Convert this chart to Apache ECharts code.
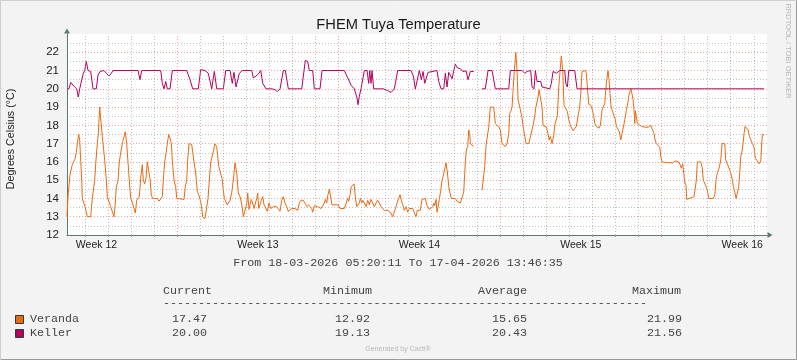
<!DOCTYPE html>
<html><head><meta charset="utf-8">
<script src="https://cdn.jsdelivr.net/npm/echarts@6/dist/echarts.min.js"></script>
<style>html,body{margin:0;padding:0;background:#f3f3f3}#c{width:797px;height:360px}</style>
</head><body><div id="c"></div>
<script>
// ---- texts ----
const titleText = 'FHEM Tuya Temperature';
const yAxisTitle = 'Degrees Celsius (°C)';
const periodText = 'From 18-03-2026 05:20:11 To 17-04-2026 13:46:35';
const watermark = 'RRDTOOL / TOBI OETIKER';
const footer = 'Generated by Cacti®';
// ---- x axis (days since Mon 16-03-2026 00:00) ----
const rangeStart = 2.2223;   // 18-03-2026 05:20:11
const rangeEnd = 32.5741;    // 17-04-2026 13:46:35
const dayLines = [3,4,5,6,8,9,10,11,12,13,15,16,17,18,19,20,22,23,24,25,26,27,29,30,31,32];
const weekLines = [7,14,21,28];
const weekLabelDays = [3.5,10.5,17.5,24.5,31.5];
const weekLabels = ['Week 12','Week 13','Week 14','Week 15','Week 16'];
// ---- y axis ----
const yMin = 12, yMax = 23, yStep = 1;
// ---- legend table ----
const statHeaders = ['Current','Minimum','Average','Maximum'];
const seriesNames = ['Veranda','Keller'];
const seriesColors = ['#EA6A12','#B5005C'];
const verandaStats = ['17.47','12.92','15.65','21.99'];
const kellerStats = ['20.00','19.13','20.43','21.56'];
// ---- data: [day, °C] ----
const kellerPoints = [
[2.222,20.0],[2.309,20.0],[2.383,20.35],[2.452,20.25],[2.556,20.1],[2.643,20.0],[2.712,19.55],[2.773,20.0],[2.843,20.0],[2.929,20.85],
[2.990,21.0],[3.059,21.5],[3.133,21.0],[3.250,20.95],[3.350,20.0],[3.493,20.0],[3.567,20.75],[3.653,20.95],[3.710,21.0],[3.827,21.0],
[3.927,20.85],[4.044,20.7],[4.143,20.85],[4.217,21.0],[5.301,21.0],[5.388,20.5],[5.462,21.0],[6.286,21.0],[6.355,20.3],[6.429,20.0],
[6.502,20.4],[6.572,20.0],[6.689,20.0],[6.789,21.0],[7.413,21.0],[7.556,20.5],[7.673,20.0],[7.916,20.0],[8.020,21.05],[8.207,21.0],
[8.350,20.85],[8.497,20.0],[8.610,20.95],[8.714,20.0],[9.000,20.0],[9.104,21.0],[9.291,21.0],[9.390,20.3],[9.464,20.9],[9.551,20.1],
[9.625,20.5],[9.694,20.85],[9.824,21.0],[10.232,21.0],[10.301,20.6],[10.418,20.7],[10.518,20.8],[10.622,21.0],[10.709,20.3],[10.765,20.35],
[10.852,20.0],[11.099,20.0],[11.242,19.95],[11.342,19.85],[11.459,20.0],[11.602,21.0],[11.689,21.0],[11.819,20.0],[12.400,20.0],[12.556,21.55],
[12.660,21.5],[12.730,21.0],[12.877,21.0],[12.947,20.0],[13.193,20.0],[13.280,21.0],[14.247,21.0],[14.395,20.6],[14.538,20.2],[14.681,20.0],
[14.798,19.5],[14.841,19.13],[14.898,19.6],[14.971,20.0],[15.115,21.0],[15.231,21.0],[15.305,20.3],[15.349,21.0],[15.405,20.3],[15.448,21.0],
[15.522,20.0],[15.938,20.0],[16.129,19.9],[16.272,19.8],[16.415,20.0],[16.563,21.0],[17.139,21.0],[17.239,20.7],[17.326,20.0],[17.400,20.0],
[17.500,21.0],[17.586,20.5],[17.660,20.95],[17.734,20.3],[17.803,20.25],[17.877,20.9],[17.950,21.0],[18.267,21.0],[18.341,20.4],[18.441,20.0],
[18.558,20.0],[18.628,20.85],[18.701,20.1],[18.775,20.9],[18.862,20.7],[18.918,20.55],[18.992,21.0],[19.061,21.35],[19.148,21.15],[19.278,21.1],
[19.382,20.95],[19.451,20.85],[19.525,20.98],[19.612,20.5],[19.711,20.95],[19.859,20.95],[20.04,null],[20.218,20.0],[20.361,20.0],[20.478,21.0],
[20.652,21.0],[20.726,20.5],[20.795,20.0],[21.376,20.0],[21.446,21.0],[21.953,21.0],[22.070,20.85],[22.170,20.95],[22.330,21.0],[22.386,20.1],
[22.473,20.0],[22.530,21.0],[22.603,20.4],[22.677,20.3],[22.764,20.4],[22.820,20.1],[22.894,20.0],[23.154,20.0],[23.224,20.3],[23.297,20.95],
[23.371,21.05],[23.441,20.85],[23.484,20.95],[23.588,21.0],[23.805,21.0],[23.849,20.3],[23.918,20.1],[23.979,21.0],[24.238,21.0],[24.338,20.0],
[32.447,20.0]
];
const verandaPoints = [
[2.222,13.0],[2.266,14.1],[2.309,14.1],[2.352,15.3],[2.409,15.3],[2.452,15.85],[2.526,15.9],[2.569,16.15],[2.626,16.5],[2.669,17.0],
[2.730,17.5],[2.773,17.2],[2.816,16.1],[2.860,15.0],[2.886,14.0],[2.959,13.9],[3.003,13.55],[3.059,13.45],[3.103,13.0],[3.176,12.92],
[3.250,13.0],[3.319,14.0],[3.363,14.1],[3.423,15.0],[3.467,15.9],[3.536,17.0],[3.580,17.5],[3.640,19.0],[3.710,18.9],[3.753,17.4],
[3.797,17.3],[3.857,16.1],[3.927,15.0],[3.970,14.1],[4.044,14.0],[4.117,13.55],[4.187,13.45],[4.260,13.0],[4.304,13.55],[4.360,14.6],
[4.434,15.0],[4.490,16.0],[4.551,16.5],[4.620,17.0],[4.694,17.1],[4.750,17.65],[4.811,17.0],[4.867,16.0],[4.924,15.0],[4.985,14.0],
[5.054,13.8],[5.128,13.9],[5.184,13.2],[5.245,13.9],[5.301,14.0],[5.358,14.1],[5.418,15.1],[5.488,15.85],[5.531,15.0],[5.592,14.8],
[5.648,15.1],[5.704,16.0],[5.778,15.4],[5.821,15.1],[5.878,14.2],[5.939,14.0],[6.138,14.0],[6.212,13.85],[6.286,13.75],[6.355,14.1],
[6.398,15.0],[6.459,16.0],[6.515,16.45],[6.572,17.0],[6.632,17.5],[6.689,17.3],[6.745,17.0],[6.788,16.1],[6.862,15.0],[6.935,14.65],
[6.979,14.0],[7.296,13.95],[7.352,14.65],[7.413,15.0],[7.456,16.1],[7.513,17.0],[7.630,16.95],[7.673,16.55],[7.730,16.0],[7.803,15.4],
[7.873,14.4],[7.934,14.2],[7.990,13.95],[8.046,13.65],[8.107,13.0],[8.207,12.9],[8.280,13.0],[8.337,14.0],[8.393,15.0],[8.454,16.0],
[8.523,16.1],[8.584,16.65],[8.627,17.0],[8.714,16.85],[8.801,15.75],[8.887,15.65],[8.944,15.1],[9.000,14.45],[9.044,14.0],[9.117,13.9],
[9.174,13.65],[9.247,13.55],[9.291,13.9],[9.364,14.3],[9.434,15.0],[9.508,15.95],[9.581,15.4],[9.651,14.3],[9.724,14.1],[9.798,13.7],
[9.868,13.0],[9.941,13.0],[10.015,13.7],[10.058,14.3],[10.114,13.4],[10.158,13.5],[10.214,13.95],[10.275,13.75],[10.331,13.45],[10.388,13.55],
[10.449,14.0],[10.492,14.3],[10.535,13.45],[10.592,13.35],[10.648,13.9],[10.709,14.1],[10.765,13.65],[10.822,13.55],[10.908,13.3],[10.982,13.75],
[11.056,13.45],[11.169,13.55],[11.316,13.55],[11.386,13.45],[11.459,13.3],[11.533,13.9],[11.602,14.1],[11.676,13.75],[11.749,13.55],[11.819,13.3],
[11.892,13.35],[11.966,13.45],[12.109,13.45],[12.226,13.35],[12.296,13.75],[12.369,13.9],[12.469,13.9],[12.543,13.75],[12.616,13.55],[12.703,13.65],
[12.773,13.65],[12.833,13.45],[12.877,13.25],[12.946,13.6],[13.094,13.55],[13.163,13.55],[13.237,13.45],[13.311,13.35],[13.380,13.75],[13.424,13.95],
[13.484,13.75],[13.528,14.15],[13.597,14.5],[13.671,14.4],[13.714,13.65],[13.771,13.75],[13.844,13.65],[13.918,13.75],[13.987,13.65],[14.061,13.45],
[14.247,13.45],[14.321,13.55],[14.395,14.0],[14.438,13.85],[14.494,14.2],[14.551,14.65],[14.612,14.75],[14.668,14.8],[14.725,14.1],[14.786,13.55],
[14.829,13.45],[14.898,13.75],[14.941,14.0],[15.002,13.75],[15.045,13.9],[15.115,13.75],[15.188,13.55],[15.262,13.9],[15.331,13.65],[15.405,13.95],
[15.479,13.9],[15.548,13.55],[15.622,13.75],[15.695,13.9],[15.765,13.75],[15.839,13.55],[15.912,13.45],[15.982,13.35],[16.055,13.45],[16.129,13.35],
[16.199,13.45],[16.272,13.2],[16.346,13.0],[16.415,13.1],[16.489,13.55],[16.545,13.8],[16.606,14.0],[16.662,14.2],[16.719,13.9],[16.780,13.65],
[16.849,13.35],[16.923,13.55],[16.997,13.25],[17.066,13.45],[17.213,13.45],[17.283,13.45],[17.356,13.0],[17.413,13.35],[17.543,13.35],[17.616,13.95],
[17.760,14.0],[17.821,13.65],[17.877,13.55],[17.934,13.4],[18.007,13.4],[18.081,13.55],[18.124,13.75],[18.168,13.6],[18.224,13.95],[18.267,13.25],
[18.311,13.55],[18.367,13.95],[18.428,14.45],[18.484,15.0],[18.528,15.2],[18.584,15.3],[18.658,15.95],[18.714,15.45],[18.775,14.65],[18.830,14.3],
[18.887,14.0],[19.061,14.0],[19.134,13.85],[19.208,13.8],[19.278,13.75],[19.351,13.85],[19.425,14.35],[19.494,16.0],[19.538,16.65],[19.598,16.85],
[19.642,17.75],[19.685,17.55],[19.711,17.0],[19.785,16.95],[19.859,16.85],[20.04,null],[20.218,14.45],[20.274,14.45],[20.335,15.75],[20.391,16.9],
[20.448,17.0],[20.509,17.9],[20.578,19.0],[20.726,19.0],[20.795,18.1],[20.869,18.0],[20.943,17.9],[21.012,17.75],[21.086,17.0],[21.159,16.9],
[21.229,16.85],[21.303,17.0],[21.376,17.55],[21.420,18.65],[21.476,18.8],[21.520,19.0],[21.563,19.9],[21.620,21.0],[21.680,21.99],[21.737,21.0],
[21.780,19.4],[21.836,19.35],[21.880,18.85],[21.953,18.4],[21.997,17.95],[22.053,17.85],[22.127,17.0],[22.244,17.0],[22.330,17.0],[22.386,17.75],
[22.430,18.0],[22.504,18.5],[22.547,18.95],[22.616,19.0],[22.647,19.55],[22.690,19.95],[22.764,20.0],[22.820,19.0],[22.864,18.0],[22.937,17.95],
[23.007,17.9],[23.081,17.55],[23.124,17.2],[23.181,17.4],[23.254,17.0],[23.328,17.45],[23.371,18.0],[23.441,18.35],[23.484,18.5],[23.545,20.1],
[23.600,20.95],[23.657,21.8],[23.718,20.95],[23.774,19.1],[23.848,19.0],[23.918,18.75],[23.979,18.3],[24.047,18.0],[24.091,17.9],[24.165,17.7],
[24.238,17.6],[24.308,17.95],[24.381,18.5],[24.455,19.05],[24.499,19.75],[24.555,20.95],[24.698,21.0],[24.742,20.85],[24.785,20.1],[24.846,19.15],
[24.933,19.1],[24.989,18.9],[25.063,18.5],[25.106,18.1],[25.175,17.95],[25.249,17.9],[25.292,17.85],[25.349,18.0],[25.422,18.85],[25.479,18.95],
[25.539,19.2],[25.583,19.95],[25.626,20.5],[25.682,21.0],[25.726,20.5],[25.769,19.75],[25.813,19.0],[25.869,18.8],[25.943,18.7],[26.000,18.3],
[26.043,17.95],[26.117,17.9],[26.173,17.65],[26.234,17.2],[26.290,17.55],[26.347,17.9],[26.408,18.3],[26.464,18.75],[26.507,18.85],[26.551,19.3],
[26.594,19.7],[26.668,20.0],[26.724,19.7],[26.768,19.4],[26.811,18.8],[26.841,18.1],[26.867,18.8],[26.910,18.75],[26.954,18.1],[27.015,18.0],
[27.127,17.95],[27.201,17.9],[27.275,17.9],[27.344,17.85],[27.417,17.9],[27.534,18.0],[27.604,17.9],[27.677,17.55],[27.721,17.2],[27.777,17.0],
[27.851,16.9],[27.925,16.8],[27.968,16.3],[28.024,16.0],[28.328,15.95],[28.401,15.85],[28.471,15.95],[28.544,16.0],[28.618,16.05],[28.748,16.0],
[28.804,15.85],[28.860,15.65],[28.921,15.9],[28.977,15.85],[29.007,14.9],[29.064,14.7],[29.094,13.95],[29.411,14.1],[29.467,14.2],[29.511,15.0],
[29.554,16.0],[29.702,16.0],[29.758,15.75],[29.814,15.0],[29.875,14.9],[29.931,14.65],[29.988,14.45],[30.049,14.0],[30.248,14.0],[30.309,14.2],
[30.365,15.0],[30.421,15.4],[30.495,15.65],[30.569,16.1],[30.625,17.0],[30.742,17.0],[30.786,16.1],[30.855,15.9],[30.929,15.8],[31.003,15.4],
[31.072,15.0],[31.116,14.65],[31.176,14.35],[31.233,14.0],[31.289,14.3],[31.350,14.65],[31.393,15.4],[31.436,16.3],[31.480,16.5],[31.536,17.0],
[31.580,17.55],[31.623,17.95],[31.697,18.0],[31.753,17.75],[31.810,17.4],[31.870,17.35],[31.940,17.0],[32.013,16.8],[32.070,16.2],[32.157,16.05],
[32.230,15.9],[32.304,16.05],[32.373,17.5],[32.447,17.47]
];

const chart = echarts.init(document.getElementById('c'), null, {renderer: 'canvas'});
const SANS = '"Liberation Sans", Arial, sans-serif';
const MONO = '"Liberation Mono", "DejaVu Sans Mono", monospace';
const MGRID = 'rgba(255,95,95,0.6)';
const GRID = 'rgba(150,150,150,0.6)';
const AXIS = '#5b7b6e';

const gridMarks = dayLines.map(d => ({xAxis: d, lineStyle: {color: GRID, type: [1, 2], width: 1}}))
  .concat(weekLines.map(d => ({xAxis: d, lineStyle: {color: MGRID, type: [1, 2], width: 1}})));

function monoText(text, x, y, fill) {
  return {type: 'text', silent: true, style: {text, x, y, font: '11.7px ' + MONO, fill: fill || '#444', verticalAlign: 'middle'}};
}
const graphics = [
  {type: 'polyline', silent: true, shape: {points: [[0.5, 359], [0.5, 0.5], [796, 0.5]]}, style: {stroke: '#cfcfcf', lineWidth: 1, fill: null}},
  {type: 'polyline', silent: true, shape: {points: [[0.5, 359.5], [796.5, 359.5], [796.5, 0.5]]}, style: {stroke: '#9a9a9a', lineWidth: 1, fill: null}},
  {type: 'text', silent: true, rotation: Math.PI / 2, x: 11, y: 139, style: {text: yAxisTitle, font: '10.7px ' + SANS, fill: '#222', align: 'center', verticalAlign: 'middle'}},
  {type: 'text', silent: true, rotation: -Math.PI / 2, x: 788, y: 51, style: {text: watermark, font: '7.5px ' + SANS, fill: '#b8b8b8', align: 'center', verticalAlign: 'middle'}},
  {type: 'text', silent: true, style: {text: periodText, x: 398, y: 263, font: '11.7px ' + MONO, fill: '#444', align: 'center', verticalAlign: 'middle'}},
  {type: 'text', silent: true, style: {text: footer, x: 398, y: 349, font: '7px ' + SANS, fill: '#b8b8b8', align: 'center', verticalAlign: 'middle'}},
  monoText(statHeaders[0], 163, 291), monoText(statHeaders[1], 323, 291), monoText(statHeaders[2], 478, 291), monoText(statHeaders[3], 632, 291),
  monoText('-'.repeat(69), 163, 303),
  {type: 'rect', silent: true, shape: {x: 15.5, y: 315.5, width: 8, height: 8}, style: {fill: seriesColors[0], stroke: '#2d3b36', lineWidth: 1}},
  {type: 'rect', silent: true, shape: {x: 15.5, y: 329.5, width: 8, height: 8}, style: {fill: seriesColors[1], stroke: '#2d3b36', lineWidth: 1}},
  monoText(seriesNames[0], 30, 319), monoText(seriesNames[1], 30, 333)
];
const statX = [172, 335, 492, 647];
verandaStats.forEach((s, i) => graphics.push(monoText(s, statX[i], 319)));
kellerStats.forEach((s, i) => graphics.push(monoText(s, statX[i], 333)));

chart.setOption({
  animation: false,
  backgroundColor: '#f3f3f3',
  title: {text: titleText, left: 'center', top: 12, textStyle: {fontFamily: SANS, fontSize: 14.7, fontWeight: 'normal', color: '#1a1a1a'}},
  grid: {left: 67, top: 34, width: 700, height: 201, show: true, backgroundColor: '#ffffff', borderWidth: 0},
  xAxis: {
    type: 'value', min: rangeStart, max: rangeEnd,
    axisLine: {show: true, lineStyle: {color: AXIS, width: 1}, symbol: ['none', 'triangle'], symbolSize: [6, 5], symbolOffset: [0, 3]},
    axisTick: {show: true, customValues: dayLines.concat(weekLines), length: 2, lineStyle: {color: '#999'}},
    axisLabel: {customValues: weekLabelDays, formatter: v => weekLabels[weekLabelDays.indexOf(v)], fontFamily: SANS, fontSize: 10.5, color: '#222', margin: 5},
    splitLine: {show: false}
  },
  yAxis: {
    type: 'value', min: yMin, max: yMax, interval: yStep,
    axisLine: {show: true, lineStyle: {color: AXIS, width: 1}, symbol: ['none', 'triangle'], symbolSize: [6, 5], symbolOffset: [0, 3]},
    axisTick: {show: false},
    axisLabel: {formatter: v => (v === yMax ? '' : String(v)), fontFamily: SANS, fontSize: 11.5, color: '#222', margin: 8},
    splitLine: {show: true, showMinLine: false, showMaxLine: false, lineStyle: {color: MGRID, type: [1, 2]}},
    minorTick: {show: false, splitNumber: 2},
    minorSplitLine: {show: true, lineStyle: {color: GRID, type: [1, 2]}}
  },
  graphic: graphics,
  series: [
    {type: 'line', name: 'grid', data: [], z: 1, silent: true,
     markLine: {symbol: ['none', 'none'], silent: true, animation: false, label: {show: false}, emphasis: {disabled: true}, data: gridMarks}},
    {type: 'line', name: seriesNames[0], data: verandaPoints, showSymbol: false, connectNulls: false, z: 3,
     lineStyle: {color: seriesColors[0], width: 1}, itemStyle: {color: seriesColors[0]}},
    {type: 'line', name: seriesNames[1], data: kellerPoints, showSymbol: false, connectNulls: false, z: 3,
     lineStyle: {color: seriesColors[1], width: 1}, itemStyle: {color: seriesColors[1]}}
  ]
});
</script></body></html>
